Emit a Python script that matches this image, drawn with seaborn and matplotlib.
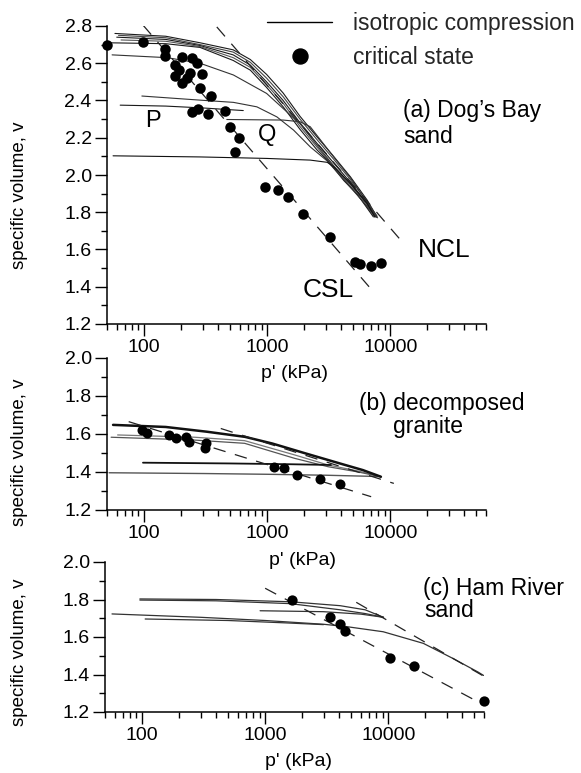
import numpy as np
import matplotlib
matplotlib.use("Agg")
import matplotlib.pyplot as plt
from matplotlib.lines import Line2D
from matplotlib.ticker import (FixedLocator, FixedFormatter, LogLocator,
                               MultipleLocator, NullFormatter, FormatStrFormatter)
import seaborn as sns

# ---------------- (a) Dog's Bay sand ----------------
a_csl_p = [98, 7150]
a_csl_v = [2.805, 1.38]
a_ncl_p = [390, 12000]
a_ncl_v = [2.795, 1.655]

a_cs_p = [50, 98, 148, 148, 202, 244, 271, 179, 194, 179, 236, 295, 202, 222, 285, 348,
          244, 276, 333, 455, 500, 595, 550, 960, 1235, 1490, 1970, 3240,
          5190, 5700, 6970, 8450]
a_cs_v = [2.70, 2.716, 2.675, 2.64, 2.635, 2.626, 2.60, 2.59, 2.563, 2.53, 2.545, 2.542,
          2.495, 2.52, 2.465, 2.424, 2.34, 2.352, 2.327, 2.345, 2.259, 2.196, 2.124,
          1.936, 1.918, 1.882, 1.793, 1.667, 1.533, 1.524, 1.511, 1.529]

a_ic1_p = [58, 150, 285, 530, 730, 990, 1350, 1850, 2540, 3470, 4750, 6500, 7800]
a_ic1_v = [2.76, 2.745, 2.71, 2.672, 2.62, 2.54, 2.44, 2.315, 2.205, 2.10, 1.99, 1.865, 1.775]
a_ic2_p = [62, 150, 285, 530, 730, 990, 1350, 1850, 2540, 3470, 4750, 6500, 7900]
a_ic2_v = [2.75, 2.737, 2.70, 2.66, 2.605, 2.52, 2.42, 2.30, 2.19, 2.085, 1.975, 1.855, 1.77]
a_ic3_p = [60, 150, 285, 530, 730, 990, 1350, 1850, 2540, 3470, 4750, 6500, 7700]
a_ic3_v = [2.74, 2.728, 2.695, 2.645, 2.59, 2.50, 2.40, 2.28, 2.17, 2.065, 1.96, 1.845, 1.772]
a_ic4_p = [65, 150, 285, 530, 730, 990, 1350, 1850, 2540, 3470, 4750, 6300, 7500]
a_ic4_v = [2.725, 2.718, 2.69, 2.63, 2.578, 2.485, 2.385, 2.26, 2.15, 2.045, 1.94, 1.84, 1.774]
a_ic5_p = [50, 150, 285, 530, 730, 990, 1350, 1850, 2540, 3080, 4200, 5420, 7300]
a_ic5_v = [2.71, 2.705, 2.685, 2.615, 2.563, 2.47, 2.366, 2.245, 2.135, 2.08, 1.97, 1.895, 1.775]
a_ic6_p = [55, 154, 285, 532, 990, 1350, 1850, 2540, 3470, 4750, 6500, 7600]
a_ic6_v = [2.645, 2.63, 2.60, 2.537, 2.438, 2.357, 2.275, 2.16, 2.05, 1.95, 1.84, 1.78]
a_ic7_p = [96, 285, 532, 825, 1200, 1640, 2240, 3080, 4200, 5600, 7600]
a_ic7_v = [2.424, 2.402, 2.39, 2.366, 2.312, 2.241, 2.151, 2.075, 1.975, 1.88, 1.78]
a_icP_p = [64, 150, 300, 640]
a_icP_v = [2.375, 2.37, 2.36, 2.346]
a_icQ_p = [470, 1350, 1850, 2240, 2850, 3470, 4750, 6300, 7800]
a_icQ_v = [2.298, 2.295, 2.286, 2.259, 2.17, 2.097, 1.985, 1.865, 1.78]
a_ic8_p = [56, 285, 990, 2240, 3080, 3470, 4750, 6500, 7500]
a_ic8_v = [2.103, 2.097, 2.089, 2.08, 2.068, 2.044, 1.954, 1.847, 1.775]

# ---------------- (b) decomposed granite ----------------
b_csl_p = [75, 7000]
b_csl_v = [1.665, 1.27]
b_ncl_p = [420, 10700]
b_ncl_v = [1.629, 1.34]

b_cs_p = [97, 106, 158, 183, 220, 234, 320, 310, 1130, 1360, 1760, 2680, 3940]
b_cs_v = [1.62, 1.605, 1.595, 1.577, 1.586, 1.56, 1.551, 1.525, 1.428, 1.42, 1.384, 1.363, 1.337]

b_ic1_p = [56, 150, 324, 660, 1100, 2000, 3900, 6000, 8400]
b_ic1_v = [1.648, 1.637, 1.612, 1.585, 1.55, 1.50, 1.445, 1.41, 1.375]
b_ic2_p = [61, 257, 656, 1670, 3120, 5500, 8400]
b_ic2_v = [1.595, 1.583, 1.565, 1.49, 1.437, 1.405, 1.375]
b_ic3_p = [54, 257, 656, 1670, 3120, 5500, 8400]
b_ic3_v = [1.583, 1.568, 1.551, 1.472, 1.428, 1.40, 1.375]
b_ic4_p = [98, 500, 1500, 3300]
b_ic4_v = [1.449, 1.445, 1.441, 1.437]
b_ic5_p = [52, 300, 1000, 3000, 8400]
b_ic5_v = [1.396, 1.392, 1.388, 1.383, 1.376]

# ---------------- (c) Ham River sand ----------------
c_csl_p = [1000, 57000]
c_csl_v = [1.86, 1.245]
c_ncl_p = [5500, 60000]
c_ncl_v = [1.785, 1.39]

c_cs_p = [1650, 3370, 4070, 4460, 10400, 16200, 59600]
c_cs_v = [1.797, 1.705, 1.669, 1.632, 1.49, 1.445, 1.259]

c_ic1_p = [96, 400, 1600, 4070, 6500, 9160]
c_ic1_v = [1.803, 1.80, 1.788, 1.767, 1.745, 1.705]
c_ic2_p = [96, 400, 1600, 4070, 6500, 9160]
c_ic2_v = [1.797, 1.793, 1.778, 1.745, 1.725, 1.705]
c_ic3_p = [910, 2980, 6000, 9160]
c_ic3_v = [1.74, 1.735, 1.722, 1.705]
c_ic4_p = [57, 300, 1000, 2980, 4620, 9100, 19300, 33000, 53700, 59500]
c_ic4_v = [1.723, 1.705, 1.688, 1.668, 1.655, 1.628, 1.566, 1.488, 1.413, 1.395]
c_ic5_p = [106, 500, 1500, 2980]
c_ic5_v = [1.696, 1.688, 1.675, 1.666]

x_ticks = [100, 1000, 10000]
x_tick_labels = ["100", "1000", "10000"]

# ---------------- figure ----------------
sns.set_theme(style="ticks")
plt.rcParams["font.family"] = ["Liberation Sans", "DejaVu Sans"]
plt.rcParams["lines.scale_dashes"] = False

W, H = 581, 773
fig = plt.figure(figsize=(W / 100, H / 100), dpi=100)
fig.patch.set_facecolor("white")


def box(left, right, top, bottom):
    return [left / W, 1 - bottom / H, (right - left) / W, (bottom - top) / H]


def fpos(x, y):
    return x / W, 1 - y / H


ax_a = fig.add_axes(box(107, 486, 26, 324))
ax_b = fig.add_axes(box(107, 486, 358, 510))
ax_c = fig.add_axes(box(105, 484, 562, 712))


def style(ax, ymin, ymax):
    ax.set_xscale("log")
    ax.set_xlim(50, 60000)
    ax.set_ylim(ymin, ymax)
    ax.xaxis.set_major_locator(FixedLocator(x_ticks))
    ax.xaxis.set_major_formatter(FixedFormatter(x_tick_labels))
    ax.xaxis.set_minor_locator(LogLocator(base=10, subs=np.arange(2, 10), numticks=30))
    ax.xaxis.set_minor_formatter(NullFormatter())
    ax.yaxis.set_major_locator(MultipleLocator(0.2))
    ax.yaxis.set_minor_locator(MultipleLocator(0.1))
    ax.yaxis.set_major_formatter(FormatStrFormatter("%.1f"))
    for s in ["top", "right"]:
        ax.spines[s].set_visible(False)
    for s in ["left", "bottom"]:
        ax.spines[s].set_linewidth(1.1)
        ax.spines[s].set_color("black")
    ax.tick_params(which="major", length=8.5, width=1.0, labelsize=14, pad=2.5,
                   color="black", labelcolor="black")
    ax.tick_params(which="minor", length=4.5, width=1.0, color="black")
    ax.set_facecolor("none")
    ax.grid(False)


def curve(ax, p, v, color="#1a1a1a", lw=0.8):
    sns.lineplot(x=p, y=v, ax=ax, color=color, linewidth=lw, sort=False,
                 estimator=None, legend=False)


def dashed(ax, p, v):
    sns.lineplot(x=p, y=v, ax=ax, color="#222222", linewidth=0.9, linestyle=(0, (9, 7)),
                 sort=False, estimator=None, legend=False)


def dots(ax, p, v, s=57):
    sns.scatterplot(x=p, y=v, ax=ax, s=s, color="black", edgecolor="black",
                    linewidth=0, legend=False, zorder=4, clip_on=False)


# panel (a)
for p, v, c in [(a_ic1_p, a_ic1_v, "#1a1a1a"), (a_ic2_p, a_ic2_v, "#444444"),
                (a_ic3_p, a_ic3_v, "#1a1a1a"), (a_ic4_p, a_ic4_v, "#555555"),
                (a_ic5_p, a_ic5_v, "#1a1a1a"), (a_ic6_p, a_ic6_v, "#333333"),
                (a_ic7_p, a_ic7_v, "#333333"), (a_icP_p, a_icP_v, "#1a1a1a"),
                (a_icQ_p, a_icQ_v, "#333333"), (a_ic8_p, a_ic8_v, "#111111")]:
    curve(ax_a, p, v, color=c)
dashed(ax_a, a_csl_p, a_csl_v)
dashed(ax_a, a_ncl_p, a_ncl_v)
dots(ax_a, a_cs_p, a_cs_v)
style(ax_a, 1.2, 2.8)

# panel (b)
curve(ax_b, b_ic2_p, b_ic2_v, color="#777777", lw=0.9)
curve(ax_b, b_ic3_p, b_ic3_v, color="#555555", lw=0.9)
curve(ax_b, b_ic5_p, b_ic5_v, color="#555555", lw=1.0)
curve(ax_b, b_ic4_p, b_ic4_v, color="#111111", lw=1.3)
curve(ax_b, b_ic1_p, b_ic1_v, color="#111111", lw=1.8)
dashed(ax_b, b_csl_p, b_csl_v)
dashed(ax_b, b_ncl_p, b_ncl_v)
dots(ax_b, b_cs_p, b_cs_v, s=52)
style(ax_b, 1.2, 2.0)

# panel (c)
for p, v in [(c_ic1_p, c_ic1_v), (c_ic2_p, c_ic2_v), (c_ic3_p, c_ic3_v),
             (c_ic4_p, c_ic4_v), (c_ic5_p, c_ic5_v)]:
    curve(ax_c, p, v, color="#333333", lw=0.9)
dashed(ax_c, c_csl_p, c_csl_v)
dashed(ax_c, c_ncl_p, c_ncl_v)
dots(ax_c, c_cs_p, c_cs_v, s=55)
style(ax_c, 1.2, 2.0)

# axis labels
for ax, (lx, ly), (xx, xy) in [
    (ax_a, (-0.232, 0.433), (0.496, -0.181)),
    (ax_b, (-0.230, 0.382), (0.515, -0.362)),
    (ax_c, (-0.226, 0.400), (0.510, -0.360)),
]:
    ax.set_ylabel("specific volume, v", fontsize=13.5, color="black",
                  ha="center", va="center")
    ax.yaxis.set_label_coords(lx, ly)
    ax.set_xlabel("p' (kPa)", fontsize=14, color="black", ha="center", va="baseline")
    ax.xaxis.set_label_coords(xx, xy)

# legend
handles = [Line2D([], [], color="black", lw=1.0),
           Line2D([], [], color="black", lw=0, marker="o", markersize=10.8)]
fig.legend(handles, ["isotropic compression", "critical state"],
           loc="upper left", bbox_to_anchor=fpos(267, 12), frameon=False,
           fontsize=16.5, handlelength=2.85, handletextpad=0.92,
           labelspacing=0.46, borderpad=0, borderaxespad=0)

# annotations
txt = dict(color="black", ha="left", va="baseline")
fig.text(*fpos(403, 117), "(a) Dog\u2019s Bay", fontsize=16.5, **txt)
fig.text(*fpos(403, 143), "sand", fontsize=16.5, **txt)
fig.text(*fpos(418, 257), "NCL", fontsize=19, **txt)
fig.text(*fpos(303, 297), "CSL", fontsize=19, **txt)
fig.text(*fpos(145, 127), "P", fontsize=17, **txt)
fig.text(*fpos(258, 141), "Q", fontsize=17, **txt)
fig.text(*fpos(359, 410), "(b) decomposed", fontsize=16.5, **txt)
fig.text(*fpos(393, 433), "granite", fontsize=16.5, **txt)
fig.text(*fpos(423, 595), "(c) Ham River", fontsize=16.5, **txt)
fig.text(*fpos(424, 617), "sand", fontsize=16.5, **txt)

fig.savefig("out.png", dpi=100, facecolor="white")
